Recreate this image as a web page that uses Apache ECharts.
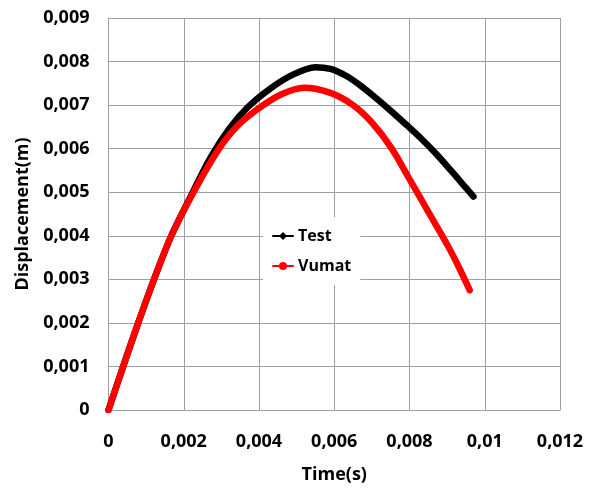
<!DOCTYPE html>
<html>
<head>
<meta charset="utf-8">
<style>
  html, body { margin: 0; padding: 0; background: #fff; }
  #chart { width: 596px; height: 498px; }
</style>
<script src="https://cdn.jsdelivr.net/npm/echarts@6/dist/echarts.min.js"></script>
</head>
<body>
<div id="chart"></div>
<script>
// Measured displacement (Test)
const testTime = [0, 0.00039, 0.00079, 0.00121, 0.00167, 0.00224, 0.0027, 0.0032, 0.0037, 0.0043, 0.0049, 0.0055, 0.0059, 0.0063, 0.0067, 0.0071, 0.0075, 0.0079, 0.0083, 0.0087, 0.0091, 0.0094, 0.0097];
const testDisp = [0, 0.0010, 0.0020, 0.0030, 0.0040, 0.0050, 0.00578, 0.00645, 0.00695, 0.00738, 0.0077, 0.00787, 0.00783, 0.00768, 0.00745, 0.00717, 0.00687, 0.00656, 0.00624, 0.00589, 0.0055, 0.0052, 0.0049];

// Simulated displacement (Vumat)
const vumatTime = [0, 0.00039, 0.00079, 0.00121, 0.00167, 0.00226, 0.0029, 0.0034, 0.0040, 0.0046, 0.0052, 0.0059, 0.0065, 0.0070, 0.00753, 0.0080, 0.0085, 0.0090, 0.0093, 0.0096];
const vumatDisp = [0, 0.0010, 0.0020, 0.0030, 0.0040, 0.0050, 0.00595, 0.0065, 0.00693, 0.00725, 0.0074, 0.00728, 0.0070, 0.0066, 0.0060, 0.0053, 0.00455, 0.0038, 0.0033, 0.00275];

const seriesNames = ['Test', 'Vumat'];
const xTitle = 'Time(s)';
const yTitle = 'Displacement(m)';

function pairs(xs, ys) { return xs.map((x, i) => [x, ys[i]]); }
function commaDecimal(v) { return String(+v.toFixed(6)).replace('.', ','); }

const FONT = '"Open Sans", sans-serif';
const GRID_COLOR = '#a0a0a0';

const chart = echarts.init(document.getElementById('chart'), null, { renderer: 'canvas' });
chart.setOption({
  animation: false,
  backgroundColor: '#fff',
  grid: { left: 108.5, right: 36, top: 18, bottom: 88 },
  legend: {
    orient: 'vertical',
    left: 263,
    top: 217,
    padding: [9, 9, 9, 9],
    itemGap: 10,
    itemWidth: 20,
    itemHeight: 10,
    backgroundColor: '#fff',
    lineStyle: { width: 2 },
    textStyle: { fontFamily: FONT, fontWeight: 'bold', fontSize: 16, color: '#000', lineHeight: 20 },
    data: seriesNames
  },
  xAxis: {
    type: 'value',
    min: 0, max: 0.012, interval: 0.002,
    name: xTitle,
    nameLocation: 'middle',
    nameGap: 56,
    nameTextStyle: { fontFamily: FONT, fontWeight: 'bold', fontSize: 18, color: '#000' },
    axisLine: { show: true, lineStyle: { color: GRID_COLOR, width: 1 } },
    axisTick: { show: false },
    axisLabel: { margin: 23, fontFamily: FONT, fontWeight: 'bold', fontSize: 18, color: '#000', formatter: commaDecimal },
    splitLine: { show: true, lineStyle: { color: GRID_COLOR, width: 1 } }
  },
  yAxis: {
    type: 'value',
    min: 0, max: 0.009, interval: 0.001,
    name: yTitle,
    nameLocation: 'middle',
    nameGap: 76,
    nameTextStyle: { fontFamily: FONT, fontWeight: 'bold', fontSize: 18, color: '#000' },
    axisLine: { show: true, lineStyle: { color: GRID_COLOR, width: 1 } },
    axisTick: { show: false },
    axisLabel: { margin: 19, fontFamily: FONT, fontWeight: 'bold', fontSize: 18, color: '#000', formatter: commaDecimal },
    splitLine: { show: true, lineStyle: { color: GRID_COLOR, width: 1 } }
  },
  series: [
    {
      name: seriesNames[0],
      type: 'line',
      data: pairs(testTime, testDisp),
      smooth: 0.3,
      symbol: 'diamond',
      symbolSize: 7,
      showSymbol: false,
      color: '#000',
      lineStyle: { color: '#000', width: 6.5, cap: 'round', join: 'round' },
      z: 2
    },
    {
      name: seriesNames[1],
      type: 'line',
      data: pairs(vumatTime, vumatDisp),
      smooth: 0.3,
      symbol: 'circle',
      symbolSize: 7,
      showSymbol: false,
      color: '#ff0000',
      lineStyle: { color: '#ff0000', width: 6.5, cap: 'round', join: 'round' },
      z: 3
    }
  ]
});
</script>
</body>
</html>
